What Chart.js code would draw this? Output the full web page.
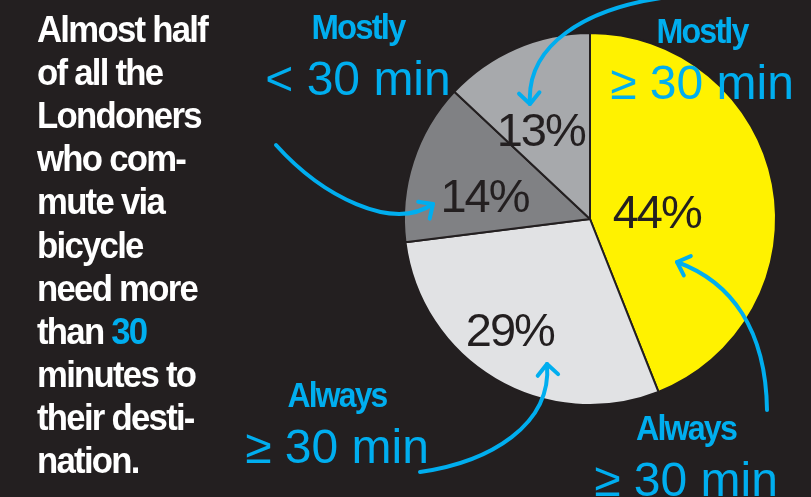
<!DOCTYPE html>
<html>
<head>
<meta charset="utf-8">
<script src="https://cdn.jsdelivr.net/npm/chart.js@4.4.1/dist/chart.umd.min.js"></script>
<style>
html, body { margin: 0; padding: 0; background: #231f20; }
#wrap { position: relative; width: 811px; height: 497px; }
</style>
</head>
<body>
<div id="wrap"><canvas id="pie" width="811" height="497"></canvas></div>
<script>
// data
var groups = ['Always', 'Always', 'Mostly', 'Mostly'];
var spans = ['≥ 30 min', '≥ 30 min', '< 30 min', '≥ 30 min'];
var shares = [44, 29, 14, 13];
var introLines = ['Almost half', 'of all the', 'Londoners', 'who com-', 'mute via', 'bicycle',
    'need more', 'than 30', 'minutes to', 'their desti-', 'nation.'];

var sliceColors = ['#fff200', '#e1e2e4', '#808184', '#a7a9ac'];
var BLUE = '#00aeef';
var BG = '#231f20';
var FONT = '"Liberation Sans", Arial, sans-serif';

// where each slice's % sits: fraction of radius, shift from mid angle (deg)
var pctPlace = [[0.36, 6], [0.74, 5], [0.58, -6], [0.54, -6]];
// callout text: centre x, baseline of first line, width of first line
var callouts = [[686, 440, 100], [337, 407, 99], [358, 39, 93], [702, 43, 91]];
// curved arrows: start, ctrl1, ctrl2, tip
var arrows = [
    [[767, 410], [766, 330], [732, 282], [677, 262]],
    [[420, 472], [490, 462], [552, 425], [547, 364]],
    [[276, 145], [322, 196], [392, 232], [433, 204]],
    [[668, -3], [585, 8], [526, 45], [530, 104]]
];

function squeeze(ctx, text, x, y, width, align) {
    var w = ctx.measureText(text).width;
    ctx.save();
    ctx.translate(x, y);
    ctx.scale(width / w, 1);
    ctx.textAlign = align || 'center';
    ctx.fillText(text, 0, 0);
    ctx.restore();
}

var backdrop = {
    id: 'backdrop',
    beforeDraw: function(chart) {
        var ctx = chart.ctx;
        ctx.save();
        ctx.fillStyle = BG;
        ctx.fillRect(0, 0, chart.width, chart.height);
        ctx.restore();
    }
};

var decorations = {
    id: 'decorations',
    afterDraw: function(chart) {
        var ctx = chart.ctx;
        var meta = chart.getDatasetMeta(0);
        ctx.save();

        // percentages in the slices
        ctx.fillStyle = BG;
        ctx.font = '47px ' + FONT;
        ctx.letterSpacing = '-2px';
        ctx.textBaseline = 'middle';
        meta.data.forEach(function(arc, i) {
            var p = arc.getProps(['x', 'y', 'startAngle', 'endAngle', 'outerRadius'], true);
            var a = (p.startAngle + p.endAngle) / 2 + pctPlace[i][1] * Math.PI / 180;
            var r = p.outerRadius * pctPlace[i][0];
            ctx.textAlign = 'center';
            ctx.fillText(shares[i] + '%', p.x + Math.cos(a) * r, p.y + Math.sin(a) * r + 2);
        });

        // intro paragraph
        ctx.textBaseline = 'alphabetic';
        ctx.font = 'bold 36px ' + FONT;
        ctx.letterSpacing = '-1.8px';
        var k = 170 / ctx.measureText(introLines[0]).width;
        introLines.forEach(function(line, i) {
            var y = 42 + i * 43.1;
            ctx.save();
            ctx.translate(37, y);
            ctx.scale(k, 1);
            ctx.textAlign = 'left';
            if (line.indexOf('30') > -1) {
                var head = line.slice(0, line.indexOf('30'));
                ctx.fillStyle = '#ffffff';
                ctx.fillText(head, 0, 0);
                ctx.fillStyle = BLUE;
                ctx.fillText('30', ctx.measureText(head).width, 0);
            } else {
                ctx.fillStyle = '#ffffff';
                ctx.fillText(line, 0, 0);
            }
            ctx.restore();
        });

        // callouts
        ctx.fillStyle = BLUE;
        callouts.forEach(function(c, i) {
            ctx.font = 'bold 35px ' + FONT;
            ctx.letterSpacing = '-2px';
            squeeze(ctx, groups[i], c[0], c[1], c[2]);
            ctx.font = '48px ' + FONT;
            ctx.letterSpacing = '0px';
            ctx.textAlign = 'center';
            ctx.fillText(spans[i], c[0], c[1] + 56);
        });

        // arrows
        ctx.strokeStyle = BLUE;
        ctx.lineWidth = 4;
        ctx.lineCap = 'round';
        ctx.lineJoin = 'round';
        arrows.forEach(function(a) {
            ctx.beginPath();
            ctx.moveTo(a[0][0], a[0][1]);
            ctx.bezierCurveTo(a[1][0], a[1][1], a[2][0], a[2][1], a[3][0], a[3][1]);
            ctx.stroke();
            var ang = Math.atan2(a[3][1] - a[2][1], a[3][0] - a[2][0]);
            var len = 15;
            ctx.beginPath();
            ctx.moveTo(a[3][0] - len * Math.cos(ang - 0.75), a[3][1] - len * Math.sin(ang - 0.75));
            ctx.lineTo(a[3][0], a[3][1]);
            ctx.lineTo(a[3][0] - len * Math.cos(ang + 0.75), a[3][1] - len * Math.sin(ang + 0.75));
            ctx.stroke();
        });
        ctx.restore();
    }
};

new Chart(document.getElementById('pie'), {
    type: 'pie',
    data: {
        labels: groups.map(function(g, i) { return g + ' ' + spans[i]; }),
        datasets: [{
            data: shares,
            backgroundColor: sliceColors,
            borderColor: BG,
            borderWidth: 2
        }]
    },
    options: {
        responsive: false,
        animation: false,
        layout: {
            padding: { left: 403, right: 34, top: 32, bottom: 91 }
        },
        plugins: {
            legend: { display: false },
            tooltip: { enabled: false }
        }
    },
    plugins: [backdrop, decorations]
});
</script>
</body>
</html>
